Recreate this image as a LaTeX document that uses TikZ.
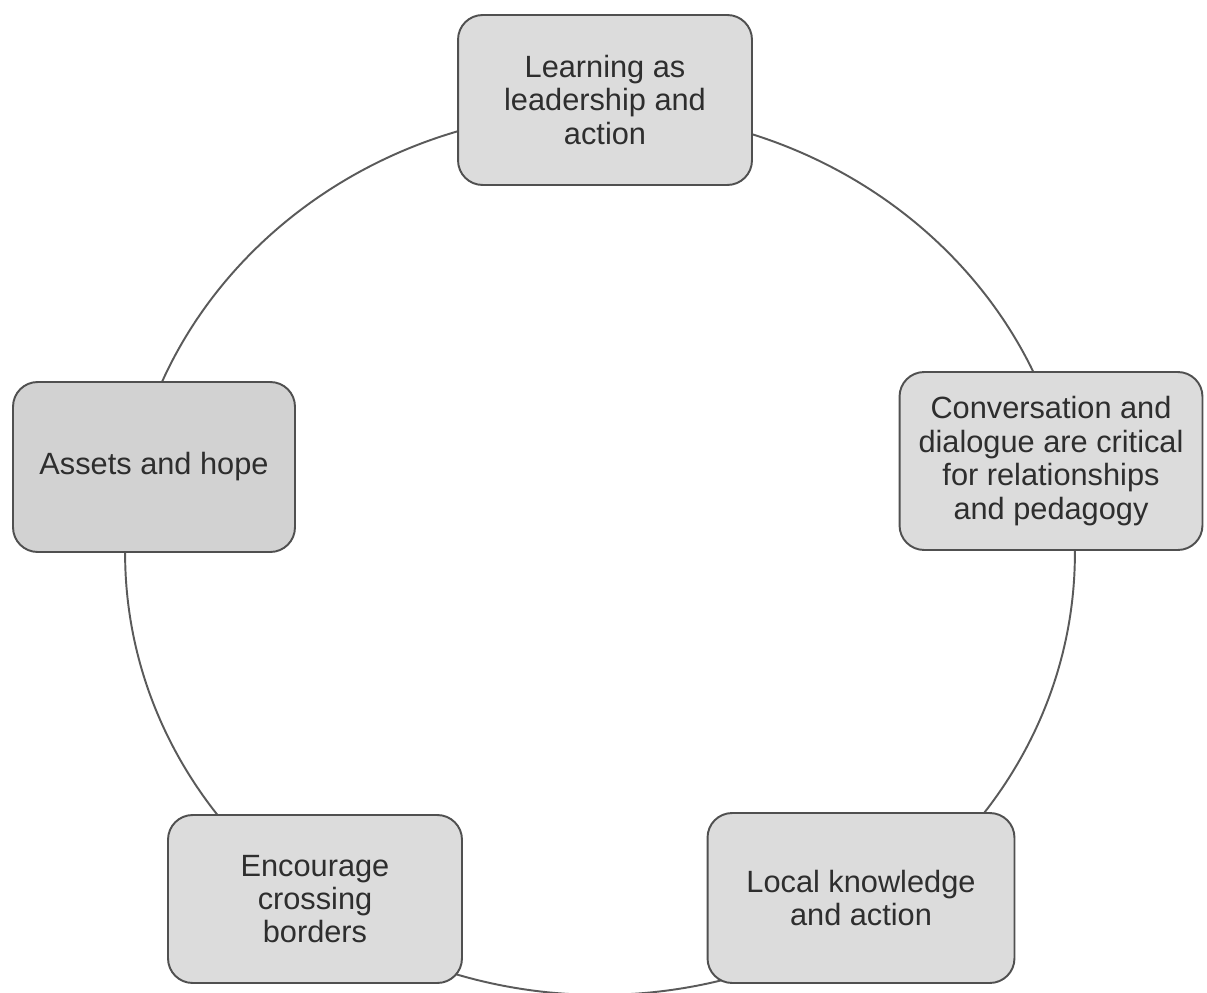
\documentclass[tikz,border=0pt]{standalone}
\usepackage{fontspec}
\setmainfont{Liberation Sans}
\usetikzlibrary{positioning}
\definecolor{boxfill}{HTML}{DCDCDC}
\definecolor{boxfilldark}{HTML}{D2D2D2}
\definecolor{boxline}{HTML}{505050}
\definecolor{ringgray}{HTML}{5A5A5A}
\definecolor{textgray}{HTML}{2E2E2E}
\tikzset{
  themebox/.style={draw=boxline,fill=boxfill,rounded corners=14pt,line width=1.1pt,
    align=center,inner sep=2pt,text=textgray,
    font=\fontsize{17.5}{19}\selectfont},
  ring/.style={draw=ringgray,line width=1.1pt},
}

\begin{document}
\begin{tikzpicture}[x=0.02cm,y=-0.02cm]
  \fill[white] (0,0) rectangle (1207,993);
  \useasboundingbox (0,0) rectangle (1207,993);
  \draw[ring] (600,553) ellipse [x radius=9.5cm,y radius=8.84cm];
  \node[themebox,minimum width=5.88cm,minimum height=3.4cm] (learn) at (605,100)
    {Learning as\\leadership and\\action};
  \node[themebox,fill=boxfilldark,minimum width=5.64cm,minimum height=3.4cm] (assets) at (154,467)
    {Assets and hope};
  \node[themebox,minimum width=6.06cm,minimum height=3.56cm] (talk) at (1051,461)
    {Conversation and\\dialogue are critical\\for relationships\\and pedagogy};
  \node[themebox,minimum width=5.88cm,minimum height=3.36cm] (borders) at (315,899)
    {Encourage\\crossing\\borders};
  \node[themebox,minimum width=6.14cm,minimum height=3.4cm] (local) at (861,898)
    {Local knowledge\\and action};
\end{tikzpicture}
\end{document}
